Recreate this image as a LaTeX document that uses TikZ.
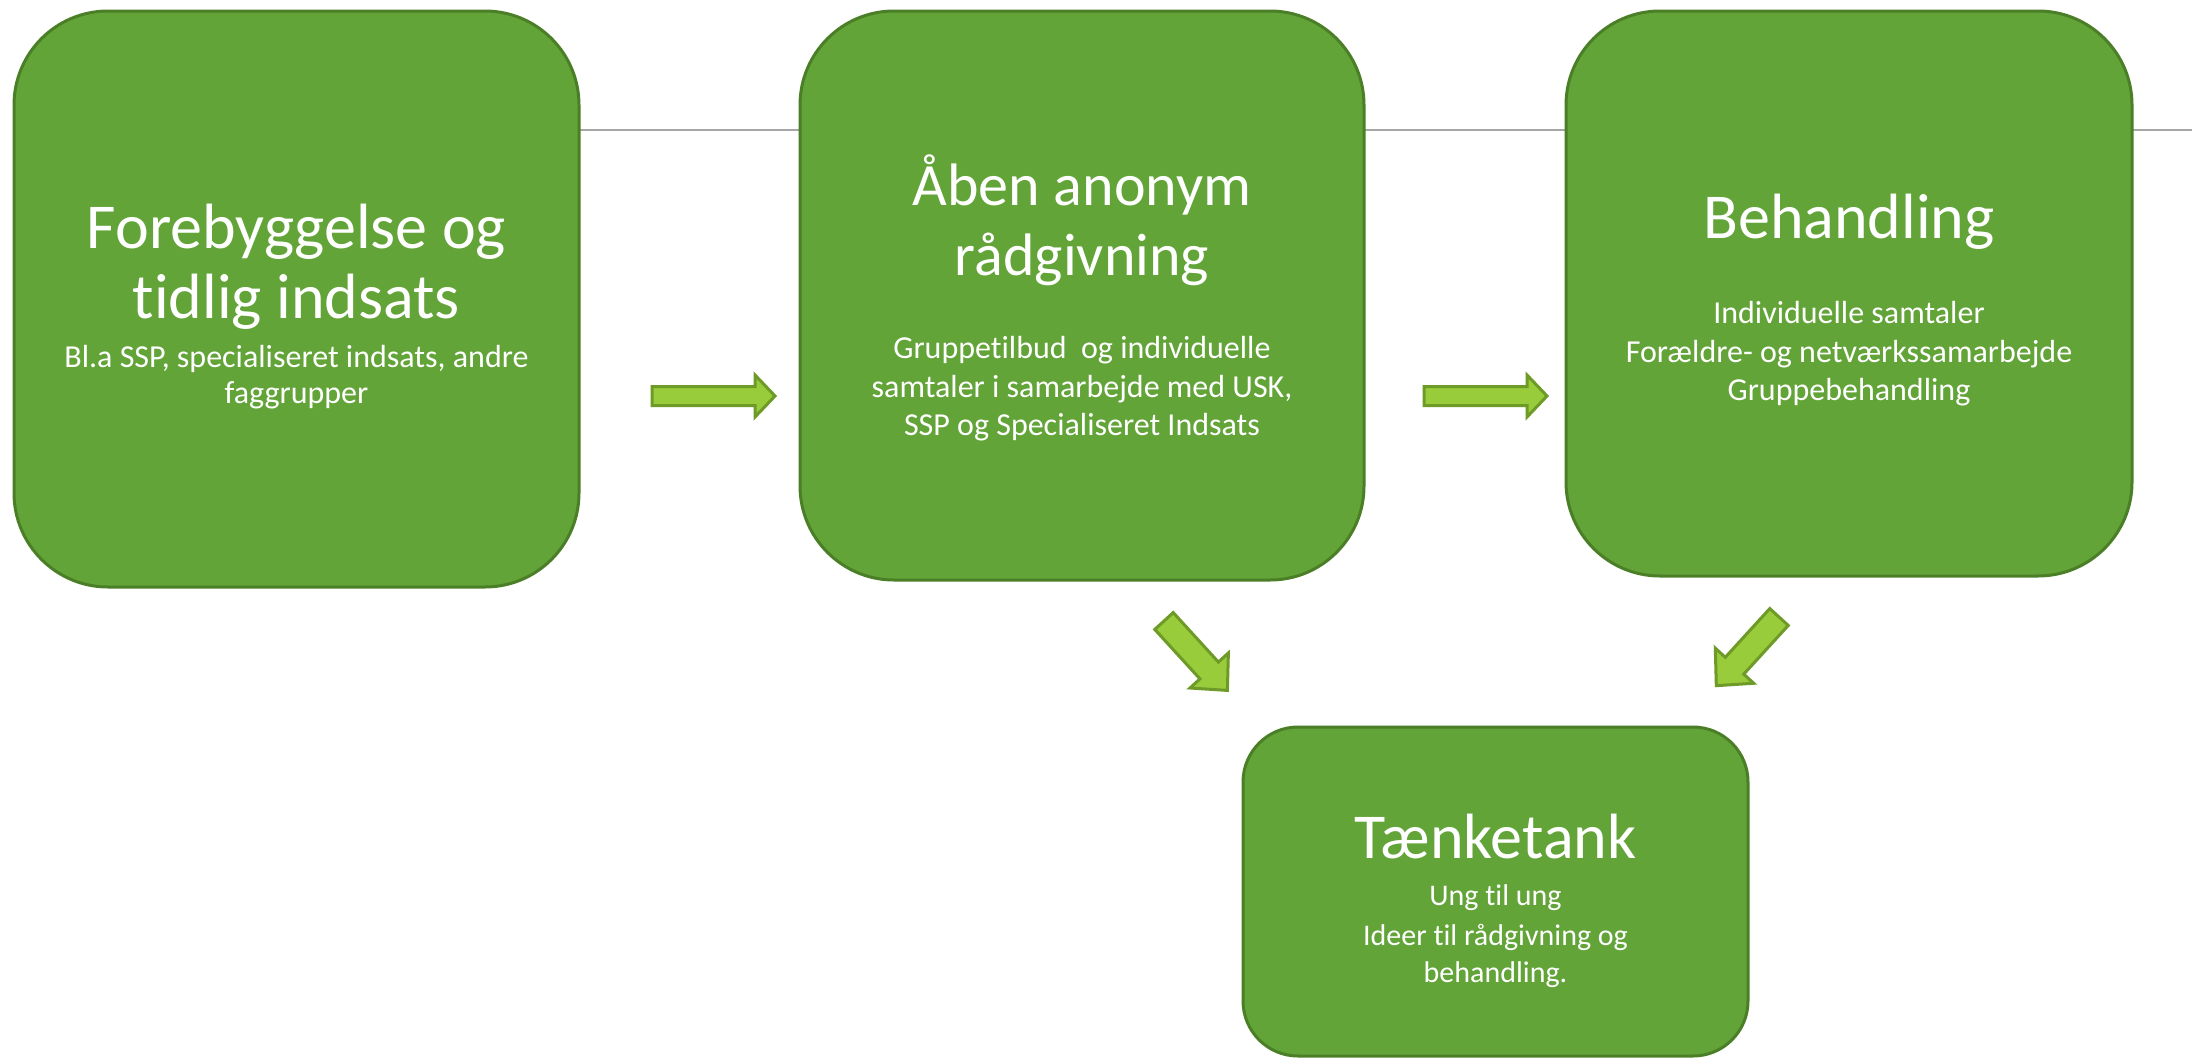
\documentclass[tikz,border=0pt]{standalone}
\usepackage{fontspec}
\setmainfont[Ligatures={NoCommon}]{Carlito}
\usetikzlibrary{backgrounds}
\definecolor{boxfill}{HTML}{62A438}
\definecolor{boxline}{HTML}{4B7F27}
\definecolor{arrfill}{HTML}{99CC3B}
\definecolor{arrline}{HTML}{6E9A27}
\definecolor{rulegray}{HTML}{A6A6A6}
% x y angle length shafthalf headhalf headlen
\newcommand\myblockarrow[7]{%
  \begin{scope}[shift={(#1,#2)},rotate=#3]
    \draw[blockarr] (0,-#5) -- ({#4-#7},-#5) -- ({#4-#7},-#6) -- (#4,0)
      -- ({#4-#7},#6) -- ({#4-#7},#5) -- (0,#5) -- cycle;
  \end{scope}}
\begin{document}
\begin{tikzpicture}[x=1pt,y=-1pt,
  box/.style={draw=boxline, fill=boxfill, line width=3pt, inner sep=0pt, outer sep=0pt},
  title/.style={text=white, anchor=base, inner sep=0pt, font=\fontsize{64}{76}\selectfont},
  titlesm/.style={text=white, anchor=base, inner sep=0pt, font=\fontsize{60}{72}\selectfont},
  body/.style={text=white, anchor=base, inner sep=0pt, font=\fontsize{32}{38}\selectfont},
  bodysm/.style={text=white, anchor=base, inner sep=0pt, font=\fontsize{30}{36}\selectfont},
  blockarr/.style={draw=arrline, fill=arrfill, line width=3pt, line join=miter}]
\useasboundingbox (0,0) rectangle (2192,1058);

% boxes
\node[box, rounded corners=94pt, minimum width=565pt, minimum height=576pt] (b1) at (296.5,299) {};
\node[box, rounded corners=94pt, minimum width=564pt, minimum height=569pt] (b2) at (1082,295.5) {};
\node[box, rounded corners=94pt, minimum width=566pt, minimum height=565pt] (b3) at (1849,293.5) {};
\node[box, rounded corners=55pt, minimum width=505pt, minimum height=329pt] (b4) at (1495.5,891.5) {};

% texts box 1
\node[title] (t1a) at (296.5,248) {Forebyggelse og};
\node[title] (t1b) at (296.5,318) {tidlig indsats};
\node[body] (s1a) at (296.5,367) {Bl.a SSP, specialiseret indsats, andre};
\node[body] (s1b) at (296.5,403) {faggrupper};

% texts box 2
\node[titlesm] (t2a) at (1082,205) {Åben anonym};
\node[titlesm] (t2b) at (1082,275) {rådgivning};
\node[body] (s2a) at (1082,358) {Gruppetilbud\ \ og individuelle};
\node[body] (s2b) at (1082,397) {samtaler i samarbejde med USK,};
\node[body] (s2c) at (1082,435) {SSP og Specialiseret Indsats};

% texts box 3
\node[title] (t3a) at (1849,238) {Behandling};
\node[body] (s3a) at (1849,323) {Individuelle samtaler};
\node[body] (s3b) at (1849,362) {Forældre- og netværkssamarbejde};
\node[body] (s3c) at (1849,400) {Gruppebehandling};

% texts box 4
\node[title] (t4a) at (1495.5,858) {Tænketank};
\node[bodysm] (s4a) at (1495.5,905) {Ung til ung};
\node[bodysm] (s4b) at (1495.5,945) {Ideer til rådgivning og};
\node[bodysm] (s4c) at (1495.5,982) {behandling.};

% block arrows
\myblockarrow{652}{396}{0}{123}{9.5}{21}{20}
\myblockarrow{1424}{396}{0}{123}{9.5}{21}{20}
\myblockarrow{1164}{621}{-47.6}{94}{12.5}{26}{27}
\myblockarrow{1779}{617}{-132.4}{93}{12.5}{26}{27}

\begin{scope}[on background layer]
  \fill[white] (0,0) rectangle (2192,1058);
  \coordinate (lineend) at (2192,130);
  \draw[rulegray, line width=2pt] (b1.east |- lineend) -- (lineend);
\end{scope}
\end{tikzpicture}
\end{document}
